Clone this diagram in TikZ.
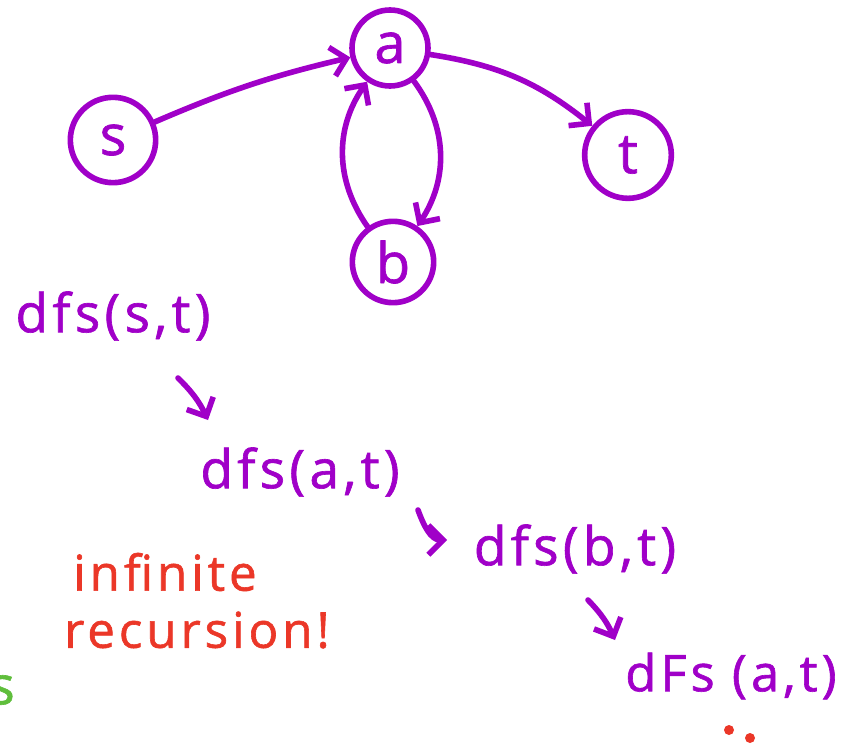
\documentclass[tikz,border=0pt]{standalone}
\usepackage{fontspec}
\setmainfont{Open Sans}[LetterSpace=8, FakeBold=1.2]
\usepackage{xcolor}
\usepackage{tikz}
\usetikzlibrary{arrows.meta}

\definecolor{pen}{RGB}{160,0,200}
\definecolor{redpen}{RGB}{235,55,40}
\definecolor{greenpen}{RGB}{95,190,60}

\begin{document}
\begin{tikzpicture}[
    x=0.75pt,
    y=-0.75pt,
    ink/.style={
        line width=4.2pt,
        line cap=round,
        line join=round
    },
    vertex/.style={
        circle,
        draw=pen,
        ink,
        text=pen,
        inner sep=0pt,
        font=\fontsize{42}{46}\selectfont
    },
    edge/.style={
        draw=pen,
        ink,
        -{Straight Barb[length=11pt,width=22pt]}
    },
    call/.style={
        text=pen,
        inner sep=0pt,
        font=\fontsize{40}{44}\selectfont
    },
    note/.style={
        text=redpen,
        inner sep=0pt,
        font=\fontsize{37}{42}\selectfont
    }
]

\useasboundingbox (0,0) rectangle (842,745);


% the graph
\node[vertex, minimum size=64pt] (s) at (113,140) {s};
\node[vertex, minimum size=57pt] (a) at (390,48) {a};
\node[vertex, minimum size=65pt] (t) at (628,155) {t};
\node[vertex, minimum size=61pt] (b) at (393,262) {b};

\draw[edge] (s) to[bend left=5] (a);
\draw[edge] (a) to[bend left=15] (t);
\draw[edge] (a) to[bend left=35] (b);
\draw[edge] (b) to[bend left=35] (a);


% the calls
\node[call] (call1) at (113,316) {dfs(s,t)};
\node[call] (call2) at (300,472) {dfs(a,t)};
\node[call] (call3) at (575,549) {dfs(b,t)};
\node[call, font=\fontsize{38}{44}\selectfont] (call4) at (731,676) {dFs (a,t)};

\coordinate (c1) at (178,378);
\coordinate (c2) at (208,420);
\coordinate (c3) at (418,510);
\coordinate (c4) at (447,540);
\coordinate (c5) at (588,600);
\coordinate (c6) at (615,640);

\draw[edge] (c1) to[bend left=10] (c2);
\draw[edge] (c3) to[out=-70, in=180] (c4);
\draw[edge] (c5) to[bend left=10] (c6);


\node[note] (infinite) at (165,572) {infinite};
\node[note] (recursion) at (197,630) {recursion!};

\fill[redpen] (729,730) circle (5);
\fill[redpen] (750,738) circle (5);

\node[text=greenpen, font=\fontsize{40}{42}\selectfont] (gs) at (2,690) {s};

\end{tikzpicture}
\end{document}
